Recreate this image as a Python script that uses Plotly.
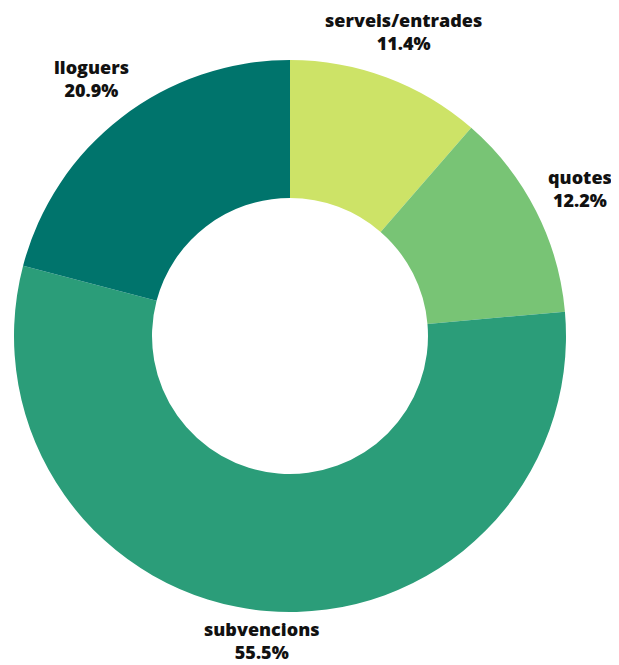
import math
import plotly.graph_objects as go

labels = ["serveis/entrades", "quotes", "subvencions", "lloguers"]
values = [11.4, 12.2, 55.5, 20.9]
colors = ["#cde367", "#78c475", "#2b9d79", "#00746c"]

W, H = 619, 665
L, T, SIZE = 6, 52, 552
R, B = W - L - SIZE, H - T - SIZE

fig = go.Figure(go.Pie(
    labels=labels,
    values=values,
    hole=0.5,
    sort=False,
    direction="clockwise",
    rotation=0,
    marker=dict(colors=colors, line=dict(width=0)),
    textinfo="none",
    automargin=False,
    showlegend=False,
    hoverinfo="label+percent",
))

# outside labels placed along each slice's mid-angle
cx, cy = L + SIZE / 2, T + SIZE / 2
label_r = 325
total = sum(values)
cum = 0
annotations = []
for lab, v in zip(labels, values):
    mid = (cum + v / 2) / total * 2 * math.pi
    cum += v
    fx = cx + label_r * math.sin(mid)
    fy = cy - label_r * math.cos(mid)
    fy = min(fy, H - 33)
    annotations.append(dict(
        x=(fx - L) / SIZE, y=1 - (fy - T) / SIZE,
        xref="paper", yref="paper",
        xanchor="center", yanchor="middle", align="center",
        text=f"{lab}<br>{v / total * 100:.1f}%",
        showarrow=False,
        font=dict(family="Open Sans", size=18, color="#111111", weight=800),
    ))

fig.update_layout(
    width=W, height=H,
    margin=dict(l=L, r=R, t=T, b=B),
    paper_bgcolor="white",
    plot_bgcolor="white",
    annotations=annotations,
)

fig.write_html("out.html")
